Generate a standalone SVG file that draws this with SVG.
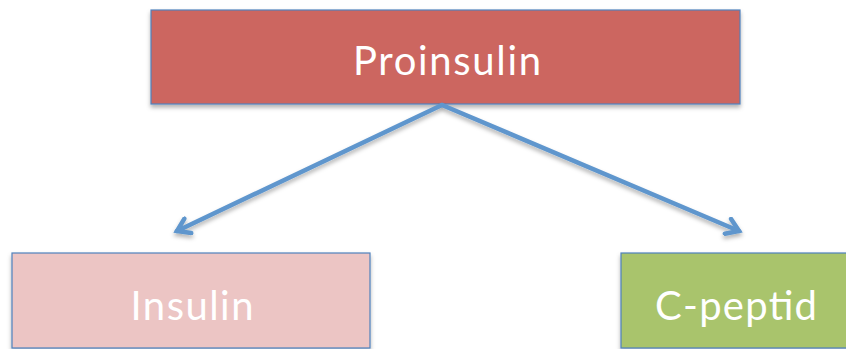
<svg xmlns="http://www.w3.org/2000/svg" width="846" height="349" viewBox="0 0 846 349">
<style>
.box{stroke:#4F81BD;stroke-width:1.2}
.lbl{font-family:Lato,"Open Sans",sans-serif;font-size:40px;fill:#FFFFFF;text-anchor:middle}
.conn{stroke:#5F96CD;stroke-width:4.5;fill:none;stroke-linecap:round}
</style>
<defs>
<filter id="sh" x="-10%" y="-10%" width="120%" height="130%">
<feDropShadow dx="0" dy="3" stdDeviation="2" flood-color="#000" flood-opacity="0.3"/>
</filter>
<marker id="arr" viewBox="0 0 20 20" refX="16" refY="10" markerWidth="20" markerHeight="20" markerUnits="userSpaceOnUse" orient="auto">
<path d="M4,2 L16,10 L4,18" fill="none" stroke="#5F96CD" stroke-width="4.5" stroke-linecap="round" stroke-linejoin="miter"/>
</marker>
</defs>
<g id="proinsulin">
<rect class="box" x="151" y="10" width="589" height="94" fill="#CC6660" filter="url(#sh)"/>
<text class="lbl" x="447" y="75" textLength="188" lengthAdjust="spacing">Proinsulin</text>
</g>
<g id="insulin">
<rect class="box" x="12" y="253" width="358" height="95" fill="#ECC5C4" filter="url(#sh)"/>
<text class="lbl" x="192" y="320" textLength="123" lengthAdjust="spacing">Insulin</text>
</g>
<g id="cpeptid">
<rect class="box" x="621" y="253" width="235" height="95" fill="#A9C46C" filter="url(#sh)"/>
<text class="lbl" x="736" y="320" textLength="162" lengthAdjust="spacing">C-peptid</text>
</g>
<g id="connectors" filter="url(#sh)">
<line class="conn" x1="442" y1="105" x2="177" y2="231" marker-end="url(#arr)"/>
<line class="conn" x1="442" y1="105" x2="739" y2="231" marker-end="url(#arr)"/>
</g>
</svg>
